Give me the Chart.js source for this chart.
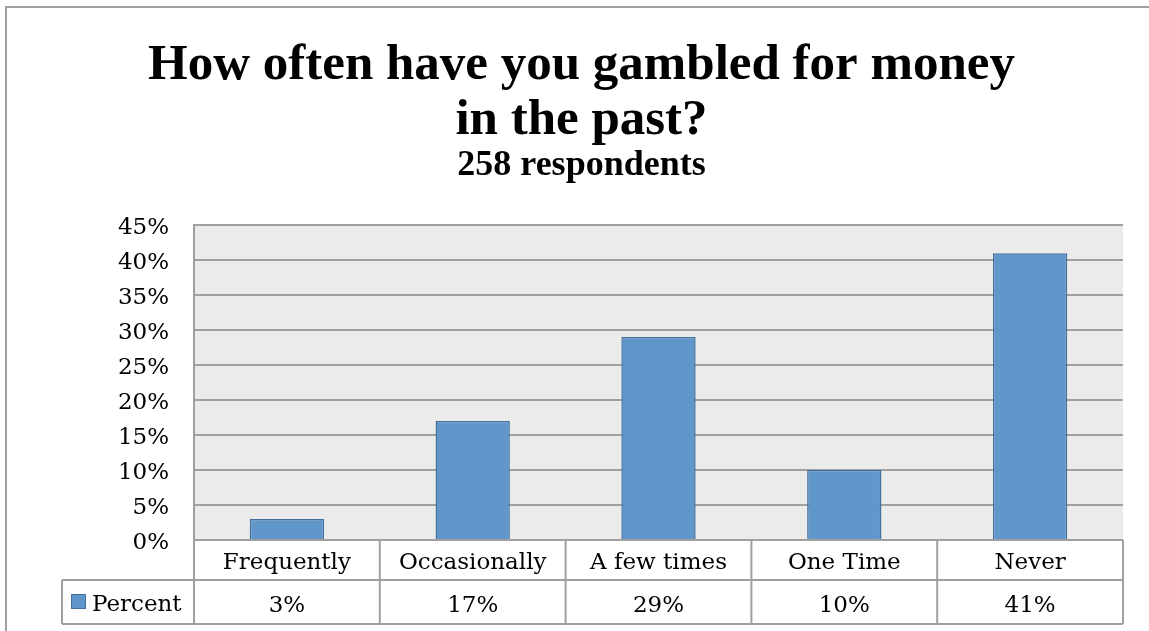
<!DOCTYPE html>
<html>
<head>
<meta charset="utf-8">
<script src="https://cdn.jsdelivr.net/npm/chart.js@4/dist/chart.umd.min.js"></script>
<style>
  html, body { margin: 0; padding: 0; background: #ffffff; }
  #caixa { width: 1149px; height: 631px; position: relative; }
</style>
</head>
<body>
<div id="caixa"><canvas id="graficoBarra"></canvas></div>
<script>
// dados do grafico
const categorias = ['Frequently', 'Occasionally', 'A few times', 'One Time', 'Never'];
const percentuais = [3, 17, 29, 10, 41];
const nomeSerie = 'Percent';
const tituloLinhas = ['How often have you gambled for money', 'in the past?'];
const subtitulo = '258 respondents';
const eixoMax = 45;
const eixoPasso = 5;

const corBarra = '#6096ca';
const corBordaBarra = '#41719c';
const corLinha = '#a0a0a0';
const fonteTexto = "'DejaVu Serif', serif";
const fonteTitulo = "'Liberation Serif', serif";

// moldura, fundo da area de plotagem e tabela de dados abaixo do eixo x
const pluginTabela = {
  id: 'tabelaDados',
  beforeDraw(chart) {
    const { ctx, chartArea } = chart;
    ctx.save();
    ctx.fillStyle = '#ebebeb';
    ctx.fillRect(chartArea.left, chartArea.top, chartArea.right - chartArea.left, chartArea.bottom - chartArea.top);

    ctx.strokeStyle = corLinha;
    ctx.lineWidth = 2;
    ctx.beginPath();
    ctx.moveTo(6, chart.height);
    ctx.lineTo(6, 7);
    ctx.lineTo(chart.width, 7);
    ctx.stroke();
    ctx.restore();
  },
  afterDraw(chart) {
    const { ctx, chartArea } = chart;
    const escalaX = chart.scales.x;
    const larguraCategoria = (chartArea.right - chartArea.left) / categorias.length;
    const topo = chartArea.bottom;
    const meio = topo + 40;
    const base = topo + 84;
    const esquerdaLegenda = 62;

    ctx.save();
    ctx.strokeStyle = corLinha;
    ctx.lineWidth = 2;
    ctx.beginPath();
    // linhas horizontais
    ctx.moveTo(chartArea.left, topo);
    ctx.lineTo(chartArea.right, topo);
    ctx.moveTo(esquerdaLegenda, meio);
    ctx.lineTo(chartArea.right, meio);
    ctx.moveTo(esquerdaLegenda, base);
    ctx.lineTo(chartArea.right, base);
    // linhas verticais
    ctx.moveTo(esquerdaLegenda, meio);
    ctx.lineTo(esquerdaLegenda, base);
    for (let i = 0; i <= categorias.length; i++) {
      const x = chartArea.left + i * larguraCategoria;
      ctx.moveTo(x, topo);
      ctx.lineTo(x, base);
    }
    ctx.stroke();

    ctx.fillStyle = '#000000';
    ctx.font = '23px ' + fonteTexto;
    ctx.textAlign = 'center';
    ctx.textBaseline = 'middle';
    categorias.forEach((categoria, i) => {
      const x = escalaX.getPixelForValue(i);
      ctx.fillText(categoria, x, topo + 23);
      ctx.fillText(percentuais[i] + '%', x, meio + 26);
    });

    // chave da legenda
    ctx.fillStyle = corBarra;
    ctx.fillRect(71, meio + 14, 15, 15);
    ctx.strokeStyle = corBordaBarra;
    ctx.lineWidth = 1;
    ctx.strokeRect(71.5, meio + 14.5, 14, 14);
    ctx.fillStyle = '#000000';
    ctx.textAlign = 'left';
    ctx.fillText(nomeSerie, 92, meio + 25);
    ctx.restore();
  }
};

function constroiGraficoBarra() {
  const data = {
    labels: categorias,
    datasets: [{
      label: nomeSerie,
      data: percentuais,
      backgroundColor: corBarra,
      borderColor: corBordaBarra,
      borderWidth: 1.5,
      categoryPercentage: 1,
      barPercentage: 0.4
    }]
  };

  const config = {
    type: 'bar',
    data: data,
    plugins: [pluginTabela],
    options: {
      responsive: true,
      maintainAspectRatio: false,
      animation: false,
      layout: {
        padding: { top: 0, right: 26, bottom: 0, left: 40 }
      },
      plugins: {
        legend: { display: false },
        tooltip: { enabled: false },
        title: {
          display: true,
          text: tituloLinhas,
          color: '#000000',
          font: { family: fonteTitulo, size: 51, weight: 'bold', lineHeight: 1.08 },
          padding: { top: 38, bottom: 0 }
        },
        subtitle: {
          display: true,
          text: subtitulo,
          color: '#000000',
          font: { family: fonteTitulo, size: 36, weight: 'bold', lineHeight: 1.0 },
          padding: { top: 0, bottom: 41 }
        }
      },
      scales: {
        x: {
          grid: { display: false },
          border: { display: false },
          ticks: { display: false },
          afterFit(escala) { escala.height = 91; }
        },
        y: {
          min: 0,
          max: eixoMax,
          grid: { color: corLinha, lineWidth: 2, drawTicks: false },
          border: { color: corLinha, width: 2 },
          ticks: {
            stepSize: eixoPasso,
            color: '#000000',
            padding: 25,
            labelOffset: 3,
            font: { family: fonteTexto, size: 23 },
            callback: (valor) => valor + '%'
          },
          afterFit(escala) { escala.width = 154; }
        }
      }
    }
  };

  new Chart(document.getElementById('graficoBarra'), config);
}

constroiGraficoBarra();
</script>
</body>
</html>
